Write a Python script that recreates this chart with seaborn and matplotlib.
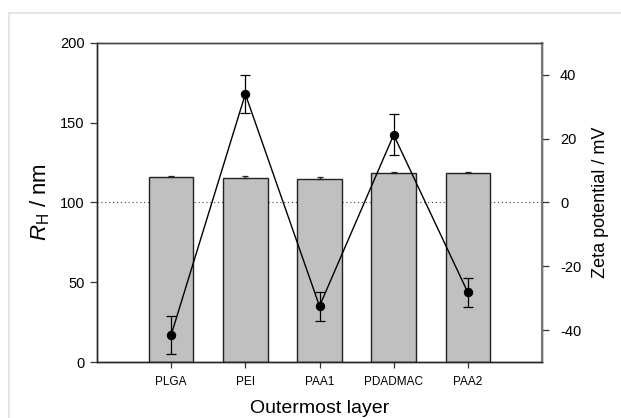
import matplotlib
matplotlib.use("Agg")
import matplotlib.pyplot as plt
import seaborn as sns
import pandas as pd
import numpy as np
from matplotlib.lines import Line2D

sns.set_style("white")
plt.rcParams['font.family'] = ['Liberation Sans', 'DejaVu Sans']
plt.rcParams['mathtext.fontset'] = 'custom'
plt.rcParams['mathtext.it'] = 'Liberation Sans:italic'
plt.rcParams['mathtext.rm'] = 'Liberation Sans'
plt.rcParams['axes.unicode_minus'] = False
plt.rcParams['text.color'] = 'black'
plt.rcParams['axes.labelcolor'] = 'black'
plt.rcParams['xtick.color'] = 'black'
plt.rcParams['ytick.color'] = 'black'

layers = ["PLGA", "PEI", "PAA1", "PDADMAC", "PAA2"]
rh = [115.8, 115.4, 114.5, 118.3, 118.7]
rh_err = [1.1, 1.4, 1.2, 0.6, 0.6]
zeta = [-41.5, 34.0, -32.5, 21.2, -28.2]
zeta_err = [5.9, 6.0, 4.5, 6.4, 4.5]

df = pd.DataFrame({"layer": layers, "rh": rh, "rh_err": rh_err,
                   "zeta": zeta, "zeta_err": zeta_err})
pos = np.arange(len(layers))

fig = plt.figure(figsize=(6.21, 4.18), dpi=100)
ax = fig.add_axes([97/621, 56/418, (542-97)/621, (362-43)/418])

sns.barplot(data=df, x="layer", y="rh", color="#c0c0c0", width=0.6,
            edgecolor="#222222", linewidth=1.0, saturation=1, ax=ax, zorder=2)
ax.errorbar(pos, df["rh"], yerr=[np.zeros(len(pos)), df["rh_err"]], fmt="none",
            ecolor="#222222", elinewidth=0.9, capsize=2.5, capthick=0.9, zorder=3)
ax.axhline(100, color="#444444", linestyle=(0, (1, 2.5)), linewidth=0.8, zorder=1)
ax.set_xlim(-1, 5)
ax.set_ylim(0, 200)
ax.set_yticks([0, 50, 100, 150, 200])
ax.set_xlabel("Outermost layer", fontsize=14, labelpad=9)
ax.set_ylabel(r"$R_{\mathrm{H}}$ / nm", fontsize=16, labelpad=6)
ax.tick_params(axis="y", direction="out", length=5, width=0.9, labelsize=10.5,
               left=True, color="#333333", pad=4)
ax.tick_params(axis="x", direction="out", length=4, width=0.9, labelsize=8.5,
               bottom=True, color="#333333", pad=6)

ax2 = ax.twinx()
sns.lineplot(data=df, x=pos, y="zeta", color="black", linewidth=1.0, ax=ax2,
             marker="o", markersize=6, markeredgecolor="black", zorder=4)
ax2.errorbar(pos, df["zeta"], yerr=df["zeta_err"], fmt="none", ecolor="black",
             elinewidth=0.9, capsize=3.5, capthick=0.9, zorder=5)
ax2.set_ylim(-50, 50)
ax2.set_yticks([-40, -20, 0, 20, 40])
ax2.set_ylabel("Zeta potential / mV", fontsize=13, labelpad=8)
ax2.tick_params(axis="y", direction="out", length=5, width=0.9, labelsize=10.5,
                right=True, color="#333333", pad=8)
ax2.set_xlim(-1, 5)

for a in (ax, ax2):
    for side in ["left", "right", "top", "bottom"]:
        a.spines[side].set_visible(True)
        a.spines[side].set_linewidth(1.0)
ax.spines["left"].set_color("#333333")
ax.spines["bottom"].set_color("#222222")
ax.spines["top"].set_color("#444444")
ax2.spines["right"].set_color("#777777")
ax2.spines["right"].set_linewidth(1.5)
ax2.spines["top"].set_color("#444444")

# light figure frame (top and left edges)
fig.add_artist(Line2D([9/621, 1.0], [1 - 13/418, 1 - 13/418], transform=fig.transFigure,
                      color="#e0e0e0", linewidth=1.2))
fig.add_artist(Line2D([9/621, 9/621], [0, 1 - 13/418], transform=fig.transFigure,
                      color="#e0e0e0", linewidth=1.2))

fig.savefig("out.png", dpi=100)
